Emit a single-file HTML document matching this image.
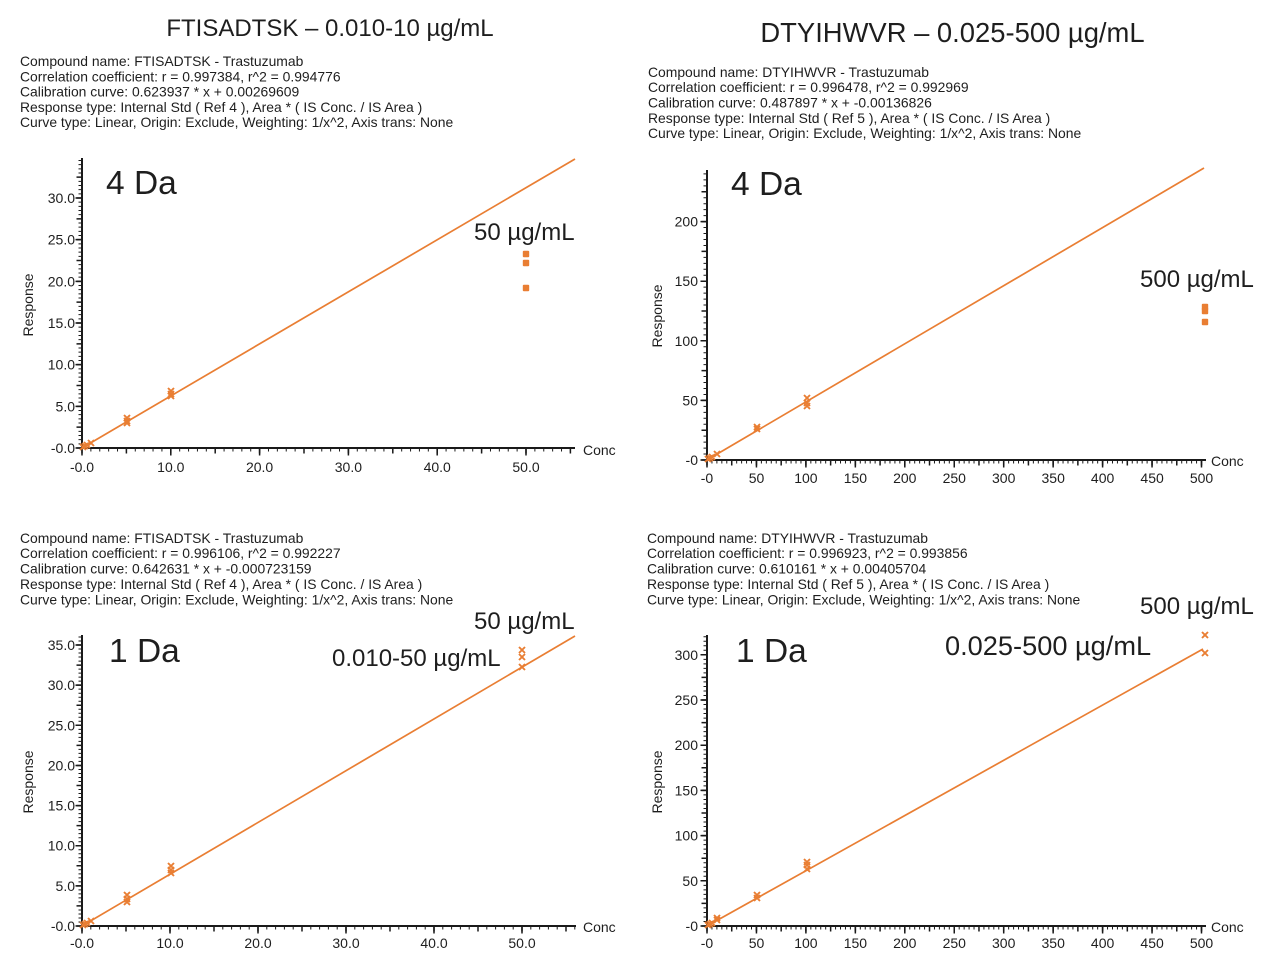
<!DOCTYPE html>
<html>
<head>
<meta charset="utf-8">
<style>
  html,body{margin:0;padding:0;background:#fff;}
  svg{display:block;}
  text{font-family:"Liberation Sans",Arial,sans-serif;fill:#1e1e1e;}
  .info{font-size:13.9px;}
  .tk{font-size:14px;}
  .big{font-size:33.5px;}
  .mid{font-size:24px;}
</style>
</head>
<body>
<svg width="1280" height="974" viewBox="0 0 1280 974" xmlns="http://www.w3.org/2000/svg">
<rect width="1280" height="974" fill="#fff"/>
<defs>
  <path id="mx" d="M-3,-3 L3,3 M-3,3 L3,-3" stroke="#E97E33" stroke-width="1.9" fill="none"/>
  <rect id="sq" x="-3.2" y="-3.2" width="6.4" height="6.4" rx="1" fill="#E97E33"/>
</defs>

<!-- Titles -->
<text x="330" y="36" text-anchor="middle" style="font-size:24px">FTISADTSK – 0.010-10 µg/mL</text>
<text x="952.5" y="42" text-anchor="middle" style="font-size:27.4px">DTYIHWVR – 0.025-500 µg/mL</text>

<!-- Info blocks -->
<g class="info">
<text x="20" y="66">Compound name: FTISADTSK - Trastuzumab</text>
<text x="20" y="81.3">Correlation coefficient: r = 0.997384, r^2 = 0.994776</text>
<text x="20" y="96.5">Calibration curve: 0.623937 * x + 0.00269609</text>
<text x="20" y="111.8">Response type: Internal Std ( Ref 4 ), Area * ( IS Conc. / IS Area )</text>
<text x="20" y="127">Curve type: Linear, Origin: Exclude, Weighting: 1/x^2, Axis trans: None</text>
</g>
<g class="info">
<text x="648" y="77">Compound name: DTYIHWVR - Trastuzumab</text>
<text x="648" y="92">Correlation coefficient: r = 0.996478, r^2 = 0.992969</text>
<text x="648" y="107.3">Calibration curve: 0.487897 * x + -0.00136826</text>
<text x="648" y="122.8">Response type: Internal Std ( Ref 5 ), Area * ( IS Conc. / IS Area )</text>
<text x="648" y="138">Curve type: Linear, Origin: Exclude, Weighting: 1/x^2, Axis trans: None</text>
</g>
<g class="info">
<text x="20" y="543">Compound name: FTISADTSK - Trastuzumab</text>
<text x="20" y="558">Correlation coefficient: r = 0.996106, r^2 = 0.992227</text>
<text x="20" y="573.5">Calibration curve: 0.642631 * x + -0.000723159</text>
<text x="20" y="589">Response type: Internal Std ( Ref 4 ), Area * ( IS Conc. / IS Area )</text>
<text x="20" y="604.5">Curve type: Linear, Origin: Exclude, Weighting: 1/x^2, Axis trans: None</text>
</g>
<g class="info">
<text x="647" y="543">Compound name: DTYIHWVR - Trastuzumab</text>
<text x="647" y="558">Correlation coefficient: r = 0.996923, r^2 = 0.993856</text>
<text x="647" y="573.5">Calibration curve: 0.610161 * x + 0.00405704</text>
<text x="647" y="589">Response type: Internal Std ( Ref 5 ), Area * ( IS Conc. / IS Area )</text>
<text x="647" y="604.5">Curve type: Linear, Origin: Exclude, Weighting: 1/x^2, Axis trans: None</text>
</g>

<!-- ================= Chart A (top-left) ================= -->
<g stroke="#1a1a1a" fill="none">
  <line x1="82" y1="449" x2="82" y2="158" stroke-width="2"/>
  <line x1="81" y1="448" x2="575" y2="448" stroke-width="2"/>
  <line x1="80" y1="448.5" x2="80" y2="158" stroke-width="3" stroke-dasharray="1 3.1667"/>
  <line x1="79" y1="448.75" x2="79" y2="158" stroke-width="5" stroke-dasharray="1.5 19.333"/>
  <line x1="78.5" y1="448.75" x2="78.5" y2="158" stroke-width="6" stroke-dasharray="1.5 40.167"/>
  <line x1="81.5" y1="450" x2="575" y2="450" stroke-width="3" stroke-dasharray="1 7.88"/>
  <line x1="81.25" y1="451" x2="575" y2="451" stroke-width="5" stroke-dasharray="1.5 42.9"/>
  <line x1="81.25" y1="452" x2="575" y2="452" stroke-width="7" stroke-dasharray="1.5 87.3"/>
</g>
<g class="tk" text-anchor="end">
<text x="75" y="453">-0.0</text><text x="75" y="411.3">5.0</text><text x="75" y="369.7">10.0</text>
<text x="75" y="328">15.0</text><text x="75" y="286.3">20.0</text><text x="75" y="244.7">25.0</text><text x="75" y="203">30.0</text>
</g>
<g class="tk" text-anchor="middle">
<text x="82" y="472">-0.0</text><text x="170.8" y="472">10.0</text><text x="259.6" y="472">20.0</text>
<text x="348.4" y="472">30.0</text><text x="437.2" y="472">40.0</text><text x="526" y="472">50.0</text>
</g>
<text class="tk" x="583" y="455">Conc</text>
<text class="tk" transform="translate(33,305) rotate(-90)" text-anchor="middle">Response</text>
<line x1="82" y1="448" x2="575" y2="159" stroke="#E97E33" stroke-width="1.7"/>
<use href="#mx" x="83" y="447"/><use href="#mx" x="85" y="446"/><use href="#mx" x="87" y="445"/><use href="#mx" x="91" y="443"/>
<use href="#mx" x="127" y="418"/><use href="#mx" x="127" y="421"/><use href="#mx" x="127" y="423"/>
<use href="#mx" x="171" y="391"/><use href="#mx" x="171" y="394"/><use href="#mx" x="171" y="396"/>
<use href="#sq" x="526" y="254"/><use href="#sq" x="526" y="263"/><use href="#sq" x="526" y="288"/>
<text class="big" x="106" y="194">4 Da</text>
<text class="mid" x="474" y="240">50 µg/mL</text>

<!-- ================= Chart B (top-right) ================= -->
<g stroke="#1a1a1a" fill="none">
  <line x1="707" y1="461" x2="707" y2="170" stroke-width="2"/>
  <line x1="706" y1="460" x2="1206" y2="460" stroke-width="2"/>
  <line x1="705" y1="460.5" x2="705" y2="170" stroke-width="3" stroke-dasharray="1 4.96"/>
  <line x1="704" y1="460.75" x2="704" y2="170" stroke-width="5" stroke-dasharray="1.5 28.3"/>
  <line x1="703.5" y1="460.75" x2="703.5" y2="170" stroke-width="6" stroke-dasharray="1.5 58.1"/>
  <line x1="706.5" y1="462" x2="1206" y2="462" stroke-width="3" stroke-dasharray="1 3.945"/>
  <line x1="706.25" y1="463" x2="1206" y2="463" stroke-width="5" stroke-dasharray="1.5 23.225"/>
  <line x1="706.25" y1="464" x2="1206" y2="464" stroke-width="7" stroke-dasharray="1.5 47.95"/>
</g>
<g class="tk" text-anchor="end">
<text x="698" y="465">-0</text><text x="698" y="405.4">50</text><text x="698" y="345.8">100</text>
<text x="698" y="286.2">150</text><text x="698" y="226.6">200</text>
</g>
<g class="tk" text-anchor="middle">
<text x="707" y="483">-0</text><text x="756.5" y="483">50</text><text x="805.9" y="483">100</text>
<text x="855.4" y="483">150</text><text x="904.8" y="483">200</text><text x="954.3" y="483">250</text>
<text x="1003.7" y="483">300</text><text x="1053.2" y="483">350</text><text x="1102.6" y="483">400</text>
<text x="1152.1" y="483">450</text><text x="1201.5" y="483">500</text>
</g>
<text class="tk" x="1211" y="466">Conc</text>
<text class="tk" transform="translate(662,316) rotate(-90)" text-anchor="middle">Response</text>
<line x1="707" y1="460" x2="1204" y2="168" stroke="#E97E33" stroke-width="1.7"/>
<use href="#mx" x="708" y="459"/><use href="#mx" x="710" y="458"/><use href="#mx" x="712" y="457"/><use href="#mx" x="717" y="454"/>
<use href="#mx" x="757" y="427"/><use href="#mx" x="757" y="429"/>
<use href="#mx" x="807" y="398"/><use href="#mx" x="807" y="403"/><use href="#mx" x="807" y="406"/>
<use href="#sq" x="1205" y="307"/><use href="#sq" x="1205" y="311"/><use href="#sq" x="1205" y="322"/>
<text class="big" x="731" y="195">4 Da</text>
<text class="mid" x="1140" y="287">500 µg/mL</text>

<!-- ================= Chart C (bottom-left) ================= -->
<g stroke="#1a1a1a" fill="none">
  <line x1="82" y1="927" x2="82" y2="635" stroke-width="2"/>
  <line x1="81" y1="926" x2="576" y2="926" stroke-width="2"/>
  <line x1="80" y1="926.5" x2="80" y2="635" stroke-width="3" stroke-dasharray="1 3.014"/>
  <line x1="79" y1="926.75" x2="79" y2="635" stroke-width="5" stroke-dasharray="1.5 18.57"/>
  <line x1="78.5" y1="926.75" x2="78.5" y2="635" stroke-width="6" stroke-dasharray="1.5 38.64"/>
  <line x1="81.5" y1="928" x2="576" y2="928" stroke-width="3" stroke-dasharray="1 7.8"/>
  <line x1="81.25" y1="929" x2="576" y2="929" stroke-width="5" stroke-dasharray="1.5 42.5"/>
  <line x1="81.25" y1="930" x2="576" y2="930" stroke-width="7" stroke-dasharray="1.5 86.5"/>
</g>
<g class="tk" text-anchor="end">
<text x="75" y="931">-0.0</text><text x="75" y="890.9">5.0</text><text x="75" y="850.7">10.0</text>
<text x="75" y="810.6">15.0</text><text x="75" y="770.4">20.0</text><text x="75" y="730.3">25.0</text>
<text x="75" y="690.2">30.0</text><text x="75" y="650">35.0</text>
</g>
<g class="tk" text-anchor="middle">
<text x="82" y="948">-0.0</text><text x="170" y="948">10.0</text><text x="258" y="948">20.0</text>
<text x="346" y="948">30.0</text><text x="434" y="948">40.0</text><text x="522" y="948">50.0</text>
</g>
<text class="tk" x="583" y="932">Conc</text>
<text class="tk" transform="translate(33,782) rotate(-90)" text-anchor="middle">Response</text>
<line x1="82" y1="926" x2="575" y2="636" stroke="#E97E33" stroke-width="1.7"/>
<use href="#mx" x="83" y="925"/><use href="#mx" x="85" y="924"/><use href="#mx" x="87" y="923"/><use href="#mx" x="91" y="921"/>
<use href="#mx" x="127" y="895"/><use href="#mx" x="127" y="899"/><use href="#mx" x="127" y="902"/>
<use href="#mx" x="171" y="866"/><use href="#mx" x="171" y="870"/><use href="#mx" x="171" y="873"/>
<use href="#mx" x="522" y="650"/><use href="#mx" x="522" y="657"/><use href="#mx" x="522" y="667"/>
<text class="big" x="109" y="662">1 Da</text>
<text class="mid" x="474" y="629">50 µg/mL</text>
<text class="mid" x="332" y="666">0.010-50 µg/mL</text>

<!-- ================= Chart D (bottom-right) ================= -->
<g stroke="#1a1a1a" fill="none">
  <line x1="707" y1="927" x2="707" y2="635" stroke-width="2"/>
  <line x1="706" y1="926" x2="1206" y2="926" stroke-width="2"/>
  <line x1="705" y1="926.5" x2="705" y2="635" stroke-width="3" stroke-dasharray="1 3.52"/>
  <line x1="704" y1="926.75" x2="704" y2="635" stroke-width="5" stroke-dasharray="1.5 21.1"/>
  <line x1="703.5" y1="926.75" x2="703.5" y2="635" stroke-width="6" stroke-dasharray="1.5 43.7"/>
  <line x1="706.5" y1="928" x2="1206" y2="928" stroke-width="3" stroke-dasharray="1 3.945"/>
  <line x1="706.25" y1="929" x2="1206" y2="929" stroke-width="5" stroke-dasharray="1.5 23.225"/>
  <line x1="706.25" y1="930" x2="1206" y2="930" stroke-width="7" stroke-dasharray="1.5 47.95"/>
</g>
<g class="tk" text-anchor="end">
<text x="698" y="931">-0</text><text x="698" y="885.8">50</text><text x="698" y="840.6">100</text>
<text x="698" y="795.4">150</text><text x="698" y="750.2">200</text><text x="698" y="705">250</text><text x="698" y="659.8">300</text>
</g>
<g class="tk" text-anchor="middle">
<text x="707" y="948">-0</text><text x="756.5" y="948">50</text><text x="805.9" y="948">100</text>
<text x="855.4" y="948">150</text><text x="904.8" y="948">200</text><text x="954.3" y="948">250</text>
<text x="1003.7" y="948">300</text><text x="1053.2" y="948">350</text><text x="1102.6" y="948">400</text>
<text x="1152.1" y="948">450</text><text x="1201.5" y="948">500</text>
</g>
<text class="tk" x="1211" y="932">Conc</text>
<text class="tk" transform="translate(662,782) rotate(-90)" text-anchor="middle">Response</text>
<line x1="707" y1="926" x2="1203" y2="649" stroke="#E97E33" stroke-width="1.7"/>
<use href="#mx" x="708" y="925"/><use href="#mx" x="710" y="924"/><use href="#mx" x="712" y="923"/><use href="#mx" x="717" y="920"/><use href="#mx" x="717" y="918"/>
<use href="#mx" x="757" y="895"/><use href="#mx" x="757" y="898"/>
<use href="#mx" x="807" y="862"/><use href="#mx" x="807" y="865"/><use href="#mx" x="807" y="869"/>
<use href="#mx" x="1205" y="635"/><use href="#mx" x="1205" y="653"/>
<text class="big" x="736" y="662">1 Da</text>
<text class="mid" x="1140" y="614">500 µg/mL</text>
<text x="945" y="655" style="font-size:27.2px">0.025-500 µg/mL</text>
</svg>
</body>
</html>
